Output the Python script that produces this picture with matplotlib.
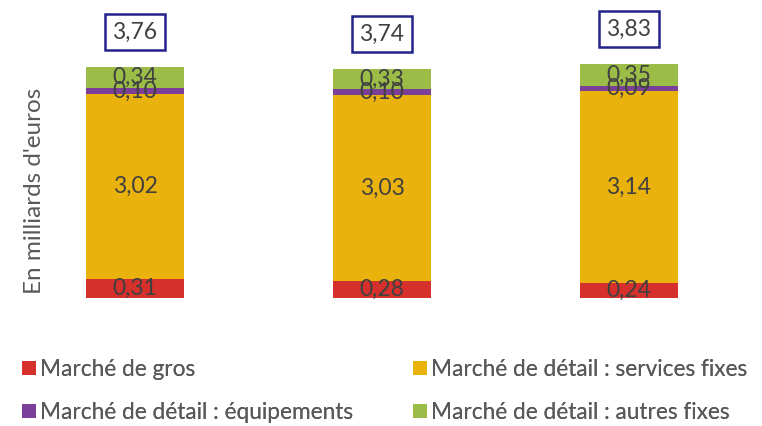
import matplotlib.pyplot as plt
import numpy as np
from matplotlib.patches import Patch

plt.rcParams['font.family'] = ['Lato', 'DejaVu Sans']

# valeurs en milliards d'euros
gros = [0.31, 0.28, 0.24]
services_fixes = [3.02, 3.03, 3.14]
equipements = [0.10, 0.10, 0.09]
autres_fixes = [0.34, 0.33, 0.35]
totaux = [3.76, 3.74, 3.83]

series = [gros, services_fixes, equipements, autres_fixes]
noms = ['Marché de gros', 'Marché de détail : services fixes',
        'Marché de détail : équipements', 'Marché de détail : autres fixes']
couleurs = ['#D6302C', '#EAB20C', '#7B3F99', '#9BBD47']

W, H = 762, 426
fig = plt.figure(figsize=(W/100, H/100), dpi=100)
# axes: x de 60 a 740 px, y de 128 px (base) a 421 px
ax = fig.add_axes([60/W, 128/H, 680/W, 293/H])
x = np.arange(3)
ax.set_xlim((60-135)/247, (740-135)/247)
ax.set_ylim(0, 293/61.2)

bas = np.zeros(3)
for vals, coul in zip(series, couleurs):
    vals = np.array(vals)
    ax.bar(x, vals, 0.4, bottom=bas, color=coul)
    for xi, b, v in zip(x, bas, vals):
        ax.text(xi, b + v/2, f'{v:.2f}'.replace('.', ','), ha='center', va='center',
                fontsize=16.5, color='#404040')
    bas = bas + vals

for xi, t, b in zip(x, totaux, bas):
    ax.text(xi, b + 0.57, f'{t:.2f}'.replace('.', ','), ha='center', va='center',
            fontsize=16.5, color='#404040',
            bbox=dict(boxstyle='square,pad=0.33', fc='white', ec='#23238C', lw=1.8))

ax.axis('off')

fig.text(35/W, 1 - 191/H, "En milliards d'euros", rotation=90, ha='center', va='center',
         fontsize=17.5, color='#595959')

# legende en deux colonnes placees separement
for idx, xpos in [([0, 2], 22), ([1, 3], 413)]:
    poignees = [Patch(facecolor=couleurs[i], label=noms[i]) for i in idx]
    leg = fig.legend(handles=poignees, loc='upper left', bbox_to_anchor=(xpos/W, 1 - 359/H),
                     frameon=False, fontsize=16.3, labelcolor='#595959',
                     handlelength=0.6, handleheight=0.6, handletextpad=0.2,
                     labelspacing=0.98, borderpad=0, borderaxespad=0)
    fig.add_artist(leg)

fig.savefig('out.png', dpi=100)
